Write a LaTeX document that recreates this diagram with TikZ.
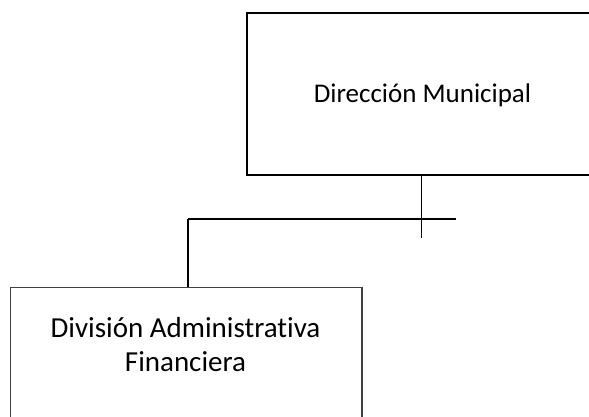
\documentclass[tikz,border=0pt]{standalone}
\usepackage{fontspec}
\setmainfont{Carlito}[Ligatures=NoCommon]
\begin{document}
\begin{tikzpicture}[x=1pt,y=-1pt,
  topbox/.style={draw=black,line width=1.8pt,minimum width=350pt,minimum height=162.5pt,inner sep=0pt},
  lowbox/.style={draw=black!75,line width=1.1pt,minimum width=351.5pt,minimum height=160pt,inner sep=0pt},
  conn/.style={draw=black,line width=1.4pt},
  lbl/.style={inner sep=0pt,align=center}]
\useasboundingbox (0,0) rectangle (589,417);
\node[topbox] (dir) at (422,94) {};
\node[lbl,font=\fontsize{27}{32}\selectfont] (dirtxt) at (422.5,95.5) {Dirección Municipal};
\node[lowbox,anchor=north] (div) at (186.25,287) {};
\node[lbl,font=\fontsize{29}{33.5}\selectfont] (divtxt) at (185.5,344.5) {División Administrativa\\Financiera};
\coordinate (cross) at (421.7,219);
\coordinate (crossend) at (421.7,238);
\coordinate (hright) at (456,219);
\coordinate (hleft) at (188,219);
\coordinate (divtop) at (188,287);
\draw[conn] (dir.south -| cross) -- (crossend);
\draw[conn] (hleft) -- (hright);
\draw[conn] (hleft) -- (divtop);
\end{tikzpicture}
\end{document}
